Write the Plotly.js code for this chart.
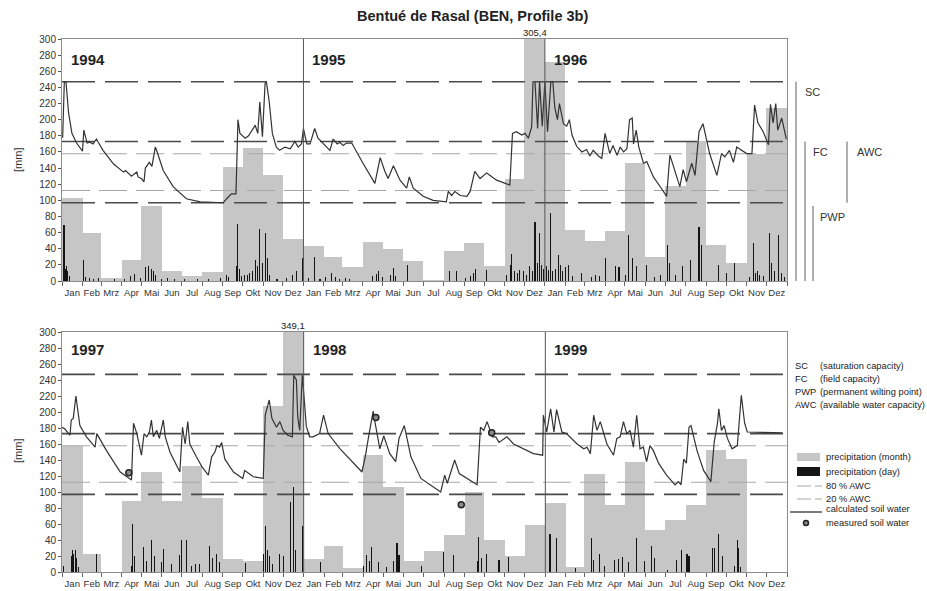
<!DOCTYPE html>
<html>
<head>
<meta charset="utf-8">
<script src="https://cdn.plot.ly/plotly-3.0.1.min.js"></script>
<style>html,body{margin:0;padding:0;background:#fff;}#chart{width:927px;height:591px;}</style>
</head>
<body>
<div id="chart"></div>
<script>
// ---------------- DATA ----------------
const monthNames = ['Jan','Feb','Mrz','Apr','Mai','Jun','Jul','Aug','Sep','Okt','Nov','Dez'];
const yearsTop = [1994, 1995, 1996];
const yearsBottom = [1997, 1998, 1999];

// monthly precipitation [mm]
const precipMonthTop = [103,60,4,26,93,12,6,11,141,165,132,52,
                        44,30,17,48,40,25,1,37,47,19,127,305.4,
                        272,63,50,62,146,30,118,174,45,22,157,214];
const precipMonthBottom = [158,22,0,89,125,89,132,92,16,14,207,349.1,
                           16,32,5,146,106,14,26,46,100,40,20,59,
                           86,6,122,84,137,53,65,84,152,141,0,0];

// daily precipitation [day since 1 Jan of first year, mm]
const precipDayTop = [[3,69],[5,15],[7,18],[9,12],[12,6],[32,26],[35,5],[42,4],[48,3],[55,4],[80,2],[95,3],[103,6],[110,9],[118,4],[126,17],[131,18],[136,15],[138,12],[141,8],[150,3],[160,4],[170,2],[185,2],[205,3],[222,2],[240,4],[248,7],[252,5],[264,19],[266,71],[268,15],[272,6],[276,8],[280,7],[284,10],[288,12],[292,26],[295,18],[299,65],[303,22],[307,59],[310,28],[313,8],[325,3],[340,4],[348,7],[355,13],[364,28],
  [372,4],[381,30],[390,3],[398,5],[408,10],[413,5],[420,3],[428,4],[435,3],[470,6],[475,9],[478,12],[484,5],[497,8],[501,16],[504,6],[523,20],[586,12],[597,12],[610,4],[618,6],[622,10],[625,15],[642,14],[672,8],[678,20],[680,34],[684,12],[688,10],[692,14],[697,13],[702,8],[707,18],[711,12],[715,73],[719,22],[722,59],[725,20],[728,15],
  [733,18],[736,14],[738,84],[741,12],[746,15],[750,32],[753,20],[757,12],[761,17],[766,20],[772,6],[786,10],[800,5],[806,7],[812,6],[821,28],[837,19],[842,17],[852,8],[857,57],[862,29],[868,19],[884,20],[895,5],[905,7],[916,45],[919,22],[928,7],[938,19],[950,26],[963,67],[967,45],[993,20],[1004,10],[1016,22],[1040,5],[1045,47],[1048,10],[1052,12],[1055,8],[1060,6],[1069,59],[1072,22],[1077,12],[1083,57],[1087,10],[1092,5]];
const precipDayBottom = [[2,8],[14,20],[16,28],[18,22],[20,27],[22,18],[25,6],[52,23],[105,8],[107,60],[109,20],[123,31],[127,14],[135,40],[139,20],[150,12],[153,29],[165,10],[178,21],[181,40],[188,40],[195,7],[202,10],[208,10],[223,33],[227,18],[233,22],[238,12],[277,11],[305,22],[308,58],[311,28],[314,20],[318,10],[329,23],[334,20],[345,88],[349,106],[352,28],[363,58],
  [390,12],[455,8],[460,21],[465,14],[468,31],[478,12],[490,6],[500,14],[506,36],[509,21],[543,8],[576,25],[592,21],[627,14],[629,44],[633,18],[641,22],[660,15],[674,19],
  [737,48],[747,42],[775,5],[800,42],[803,15],[812,23],[820,8],[835,15],[840,16],[847,19],[855,12],[868,42],[880,14],[890,33],[895,17],[915,3],[928,15],[936,27],[944,23],[947,20],[983,30],[986,30],[992,48],[997,20],[1015,8],[1020,40],[1022,30],[1025,6]];

// calculated soil water [day, mm]
const soilTop = [[0,179],[1,178],[3.5,247],[6,247],[10,208],[15,183],[22,171],[31,161],[33,187],[38,171],[42,172],[47,170],[52,176],[62,162],[78,145],[93,135],[96,137],[105,130],[113,135],[115,129],[120,127],[124,123],[126,140],[130,144],[132,147],[136,142],[138,154],[141,166],[143,162],[153,137],[168,117],[188,102],[209,98],[244,97],[249,102],[256,108],[263,108],[265,166],[266,200],[269,183],[277,177],[282,180],[289,188],[292,193],[296,183],[299,222],[303,179],[307,245],[309,247],[313,224],[318,183],[324,166],[329,162],[337,166],[345,164],[352,173],[357,166],[362,170],
  [365,189],[370,170],[375,170],[382,189],[387,177],[405,162],[410,176],[416,170],[420,172],[425,168],[430,171],[438,171],[455,146],[473,121],[481,153],[488,136],[493,127],[501,143],[511,125],[521,115],[525,129],[531,115],[546,105],[561,100],[581,98],[584,111],[589,106],[594,111],[602,106],[612,105],[617,111],[624,136],[632,127],[642,134],[657,125],[677,119],[681,183],[687,185],[695,181],[700,183],[705,177],[710,191],[712,247],[715,247],[719,189],[722,247],[726,192],
  [730,247],[734,185],[739,247],[742,247],[745,215],[749,200],[752,220],[758,195],[763,192],[767,200],[771,181],[778,167],[786,160],[793,163],[798,155],[803,162],[811,155],[816,152],[821,183],[828,158],[833,168],[839,156],[844,166],[849,160],[854,164],[858,200],[862,202],[864,170],[868,187],[872,166],[879,146],[884,148],[894,129],[906,115],[914,105],[919,156],[924,142],[934,117],[939,138],[944,123],[952,146],[957,131],[963,185],[969,195],[979,158],[990,131],[997,158],[1002,154],[1009,162],[1015,147],[1020,166],[1035,158],[1043,158],[1047,218],[1052,196],[1060,185],[1068,169],[1071,219],[1075,196],[1079,220],[1082,187],[1088,202],[1095,176]];
const soilBottom = [[0,181],[4,179],[10,173],[12,171],[14,190],[17,192],[21,220],[23,208],[27,183],[37,169],[50,156],[52.5,173],[67,152],[88,125],[105,115],[108,186],[113,173],[120,146],[124,173],[128,169],[132,175],[135,190],[138,169],[143,177],[147,167],[153,190],[156,169],[163,150],[178,125],[182,181],[186,160],[190,188],[193,160],[203,144],[211,132],[221,121],[226,144],[231,150],[234,158],[238,156],[241,162],[246,141],[259,125],[273,117],[276,127],[289,119],[304,117],[307,196],[313,215],[317,192],[324,181],[329,188],[334,177],[341,171],[348,169],[350,246],[354,240],[356,194],[359,177],[363,246],[365,225],
  [369,182],[374,169],[379,169],[389,173],[395,196],[402,173],[420,154],[453,125],[458,144],[463,169],[470,201],[473,186],[480,154],[486,170],[495,148],[504,138],[509,167],[517,183],[527,144],[542,117],[552,111],[572,100],[578,121],[582,111],[593,140],[600,123],[627,109],[632,181],[637,177],[642,188],[650,169],[655,169],[660,162],[672,169],[682,160],[712,148],[726,146],
  [727,196],[732,175],[738,204],[743,175],[747,203],[755,175],[762,173],[778,160],[788,154],[793,156],[798,148],[803,196],[808,177],[813,188],[823,160],[833,146],[838,167],[843,169],[848,188],[853,173],[858,177],[863,156],[868,196],[873,154],[878,156],[883,138],[888,158],[893,152],[901,136],[913,121],[926,109],[931,113],[935,109],[939,141],[943,136],[947,181],[950,183],[959,152],[969,127],[980,113],[985,162],[990,186],[992,204],[996,177],[1000,183],[1005,167],[1012,154],[1020,158],[1026,221],[1031,186],[1035,175],[1088,174]];

// measured soil water (bottom panel)
const measuredDates = ['1997-04-12','1998-04-20','1998-08-27','1998-10-12'];
const measuredVals = [124, 193, 84, 174];

// reference levels [mm]
const SC = 247, FC = 173, PWP = 97;
const AWC80 = PWP + 0.8*(FC-PWP), AWC20 = PWP + 0.2*(FC-PWP);
const bigLabels = {top:'305,4', bottom:'349,1'};

// ---------------- BUILD ----------------
const DAY = 864e5;
function iso(ms){ return new Date(ms).toISOString().slice(0,19); }
function grid(years){
  const mids=[], widths=[], starts=[], text=[];
  years.forEach(y=>{ for(let m=0;m<12;m++){ const s=Date.UTC(y,m,1), e=Date.UTC(y,m+1,1);
    mids.push(iso((s+e)/2)); widths.push(e-s); starts.push(iso(s)); text.push(monthNames[m]); } });
  starts.push(iso(Date.UTC(years[years.length-1]+1,0,1)));
  return {mids, widths, starts, text};
}
const gT = grid(yearsTop), gB = grid(yearsBottom);
const baseT = Date.UTC(yearsTop[0],0,1), baseB = Date.UTC(yearsBottom[0],0,1);
const xs = (arr, base) => arr.map(p=>iso(base + p[0]*DAY));
const ys = arr => arr.map(p=>p[1]);

const FONT = 'Liberation Sans, Arial, sans-serif';
const traces = [];
function panel(g, pm, pd, soil, base, xa, ya){
  traces.push({type:'bar', x:g.mids, y:pm, width:g.widths, xaxis:xa, yaxis:ya,
    marker:{color:'#c6c6c6', line:{width:0}}, hoverinfo:'skip', showlegend:false});
  traces.push({type:'bar', x:xs(pd,base), y:ys(pd), width:1.6*DAY, xaxis:xa, yaxis:ya,
    marker:{color:'#151515', line:{width:0}}, hoverinfo:'skip', showlegend:false});
  const x0 = g.starts[0], x1 = g.starts[g.starts.length-1];
  [[AWC80,'#a8a8a8',1.1,'28px,9px'],[AWC20,'#a8a8a8',1.1,'28px,9px'],
   [SC,'#4a4a4a',1.6,'33px,10px'],[FC,'#4a4a4a',1.6,'33px,10px'],[PWP,'#4a4a4a',1.6,'33px,10px']].forEach(l=>{
    traces.push({type:'scatter', mode:'lines', x:[x0,x1], y:[l[0],l[0]], xaxis:xa, yaxis:ya,
      line:{color:l[1], width:l[2], dash:l[3]}, hoverinfo:'skip', showlegend:false});
  });
  traces.push({type:'scatter', mode:'lines', x:xs(soil,base), y:ys(soil), xaxis:xa, yaxis:ya,
    line:{color:'#333', width:1.2}, hoverinfo:'skip', showlegend:false});
}
panel(gT, precipMonthTop, precipDayTop, soilTop, baseT, 'x', 'y');
panel(gB, precipMonthBottom, precipDayBottom, soilBottom, baseB, 'x2', 'y2');
traces.push({type:'scatter', mode:'markers', x:measuredDates, y:measuredVals, xaxis:'x2', yaxis:'y2',
  marker:{symbol:'circle', size:6, color:'#8a8a8a', line:{color:'#222', width:1.5}}, hoverinfo:'skip', showlegend:false});

function xaxisDef(g, anchor){
  return {anchor, domain:[0,1], type:'date', range:[g.starts[0], g.starts[g.starts.length-1]],
    tickmode:'array', tickvals:g.mids, ticktext:g.text, ticks:'', ticklabelstandoff:3,
    tickfont:{family:FONT, size:9.5, color:'#333'},
    minor:{tickmode:'array', tickvals:g.starts, ticks:'outside', ticklen:4, tickcolor:'#666', tickwidth:1, showgrid:false},
    showgrid:false, zeroline:false, showline:true, mirror:true, linecolor:'#8c8c8c', linewidth:1, fixedrange:true};
}
function yaxisDef(anchor, domain){
  return {anchor, domain, range:[0,300], dtick:20, tick0:0, ticks:'outside', ticklen:3, tickcolor:'#555',
    tickfont:{family:FONT, size:10, color:'#333'}, showgrid:false, zeroline:false,
    showline:true, mirror:true, linecolor:'#8c8c8c', linewidth:1, fixedrange:true};
}

const W=725, L=62, H=533, B=572;
const px = p => (p-L)/W, py = p => (B-p)/H;

const shapes = [];
['1995-01-01','1996-01-01'].forEach(d=>shapes.push({type:'line', xref:'x', yref:'y domain', x0:d, x1:d, y0:0, y1:1, line:{color:'#555', width:1}}));
['1998-01-01','1999-01-01'].forEach(d=>shapes.push({type:'line', xref:'x2', yref:'y2 domain', x0:d, x1:d, y0:0, y1:1, line:{color:'#555', width:1}}));
// bracket lines at right of top panel
[[796,0,SC],[805,0,FC],[813,0,93],[847,PWP,FC]].forEach(b=>shapes.push({type:'line', xref:'paper', yref:'y', x0:px(b[0]), x1:px(b[0]), y0:b[1], y1:b[2], line:{color:'#7a7a7a', width:1.2}}));
// legend symbols
shapes.push({type:'rect', xref:'paper', yref:'paper', x0:px(797), x1:px(820), y0:py(461), y1:py(453), fillcolor:'#c6c6c6', line:{width:0}});
shapes.push({type:'rect', xref:'paper', yref:'paper', x0:px(797), x1:px(820), y0:py(476), y1:py(467), fillcolor:'#151515', line:{width:0}});
shapes.push({type:'line', xref:'paper', yref:'paper', x0:px(797), x1:px(822), y0:py(486), y1:py(486), line:{color:'#a8a8a8', width:1.1, dash:'14px,4px'}});
shapes.push({type:'line', xref:'paper', yref:'paper', x0:px(797), x1:px(822), y0:py(499), y1:py(499), line:{color:'#a8a8a8', width:1.1, dash:'14px,4px'}});
shapes.push({type:'line', xref:'paper', yref:'paper', x0:px(790), x1:px(822), y0:py(512), y1:py(512), line:{color:'#333', width:1.3}});
shapes.push({type:'circle', xref:'paper', yref:'paper', x0:px(803.5), x1:px(808.5), y0:py(525.5), y1:py(520.5), fillcolor:'#8a8a8a', line:{color:'#222', width:1.5}});

const ann = [];
const t = (x,y,text,opt={}) => ann.push(Object.assign({xref:'paper', yref:'paper', x, y, text, showarrow:false,
  xanchor:'left', yanchor:'middle', font:{family:FONT, size:9.3, color:'#222'}}, opt));
t(px(473), py(16), '<b>Bentué de Rasal (BEN, Profile 3b)</b>', {xanchor:'center', font:{family:FONT, size:14.5, color:'#222'}});
t(px(18), py(160), '[mm]', {xanchor:'center', textangle:-90, font:{family:FONT, size:11, color:'#333'}});
t(px(18), py(451), '[mm]', {xanchor:'center', textangle:-90, font:{family:FONT, size:11, color:'#333'}});
// year labels
yearsTop.forEach(y=>ann.push({xref:'x', yref:'y', x:y+'-01-01', y:275, xshift:7, text:'<b>'+y+'</b>', showarrow:false, xanchor:'left', yanchor:'middle', font:{family:FONT, size:15, color:'#222'}}));
yearsBottom.forEach(y=>ann.push({xref:'x2', yref:'y2', x:y+'-01-01', y:278, xshift:7, text:'<b>'+y+'</b>', showarrow:false, xanchor:'left', yanchor:'middle', font:{family:FONT, size:15, color:'#222'}}));
ann.push({xref:'x', yref:'y', x:gT.mids[23], y:300, text:bigLabels.top, showarrow:false, yanchor:'bottom', xanchor:'center', borderpad:0, font:{family:FONT, size:9.5, color:'#222'}});
ann.push({xref:'x2', yref:'y2', x:gB.mids[11], y:300, text:bigLabels.bottom, showarrow:false, yanchor:'bottom', xanchor:'center', borderpad:0, font:{family:FONT, size:9.5, color:'#222'}});
// bracket labels
const br = {font:{family:FONT, size:11, color:'#333'}};
ann.push(Object.assign({xref:'paper', yref:'y', x:px(803), y:234, text:'SC', showarrow:false, xanchor:'left', yanchor:'middle'}, br));
ann.push(Object.assign({xref:'paper', yref:'y', x:px(811), y:160, text:'FC', showarrow:false, xanchor:'left', yanchor:'middle'}, br));
ann.push(Object.assign({xref:'paper', yref:'y', x:px(855), y:160, text:'AWC', showarrow:false, xanchor:'left', yanchor:'middle'}, br));
ann.push(Object.assign({xref:'paper', yref:'y', x:px(818), y:79, text:'PWP', showarrow:false, xanchor:'left', yanchor:'middle'}, br));
// abbreviations
[['SC','(saturation capacity)',366],['FC','(field capacity)',379],['PWP','(permanent wilting point)',392],['AWC','(available water capacity)',405]].forEach(r=>{
  t(px(793), py(r[2]), r[0]); t(px(818), py(r[2]), r[1]);
});
// legend texts
[['precipitation (month)',457],['precipitation (day)',472],['80 % AWC',486],['20 % AWC',499],['calculated soil water',509],['measured soil water',523]].forEach(r=>t(px(824), py(r[1]), r[0]));

const layout = {
  width:927, height:591, margin:{l:62, r:140, t:39, b:19},
  paper_bgcolor:'#fff', plot_bgcolor:'#fff', barmode:'overlay', bargap:0, showlegend:false,
  font:{family:FONT, color:'#222'},
  xaxis:xaxisDef(gT,'y'), yaxis:yaxisDef('x',[py(281),1]),
  xaxis2:xaxisDef(gB,'y2'), yaxis2:yaxisDef('x2',[0,py(332)]),
  shapes, annotations:ann
};
Plotly.newPlot('chart', traces, layout, {staticPlot:true, displayModeBar:false});
</script>
</body>
</html>
